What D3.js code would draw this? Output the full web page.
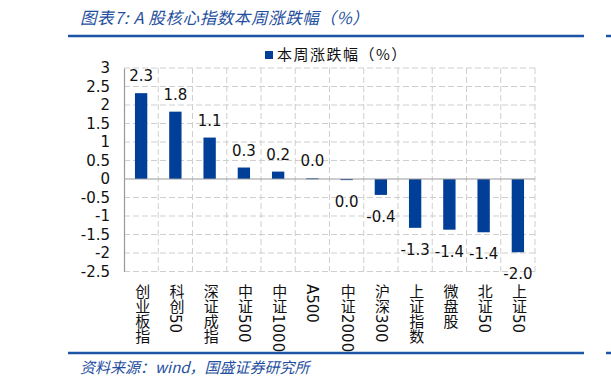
<!DOCTYPE html>
<html>
<head>
<meta charset="utf-8">
<script src="https://cdn.jsdelivr.net/npm/d3@7"></script>
<style>
  body { margin: 0; background: #fff; }
  svg { display: block; }
</style>
</head>
<body>
<div id="chart"></div>
<script>
// data
const categories = ['创业板指', '科创50', '深证成指', '中证500', '中证1000', 'A500',
  '中证2000', '沪深300', '上证指数', '微盘股', '北证50', '上证50'];
const weeklyChange = [2.32, 1.82, 1.12, 0.31, 0.2, 0.02, -0.03, -0.43, -1.32, -1.37, -1.44, -1.98];
const tickValues = [3, 2.5, 2, 1.5, 1, 0.5, 0, -0.5, -1, -1.5, -2, -2.5];
const tickLabels = ['3', '2.5', '2', '1.5', '1', '0.5', '0', '-0.5', '-1', '-1.5', '-2', '-2.5'];

const W = 611, H = 386;
const blue = '#003f98';
const cjk = '"Noto Sans CJK SC", sans-serif';
const latin = '"DejaVu Sans", "Noto Sans CJK SC", sans-serif';

const svg = d3.select('#chart').append('svg')
  .attr('width', W).attr('height', H);

// header / footer
svg.append('text')
  .attr('x', 80).attr('y', 24)
  .attr('font-family', cjk).attr('font-size', 16.5)
  .attr('font-style', 'italic').attr('fill', '#1f4f9e')
  .attr('letter-spacing', 0.6)
  .text('图表7: A 股核心指数本周涨跌幅（%）');
[[68, 584], [606, 611]].forEach(([a, b]) => {
  svg.append('line').attr('x1', a).attr('x2', b).attr('y1', 36).attr('y2', 36)
    .attr('stroke', '#1d54a6').attr('stroke-width', 2.5);
  svg.append('line').attr('x1', a).attr('x2', b).attr('y1', 353).attr('y2', 353)
    .attr('stroke', '#1d54a6').attr('stroke-width', 2.5);
});
svg.append('text')
  .attr('x', 80).attr('y', 373)
  .attr('font-family', cjk).attr('font-size', 15)
  .attr('font-style', 'italic').attr('fill', '#1f4f9e')
  .text('资料来源：wind，国盛证券研究所');

// legend
svg.append('rect').attr('x', 265).attr('y', 51).attr('width', 8).attr('height', 8).attr('fill', blue);
svg.append('text').attr('x', 277).attr('y', 60)
  .attr('font-family', cjk).attr('font-size', 15).attr('fill', '#111')
  .attr('letter-spacing', 1.5)
  .text('本周涨跌幅（%）');

// scales
const x = d3.scaleBand().domain(categories).range([124, 535]).padding(0);
const y = d3.scaleLinear().domain([-2.5, 3]).range([271.5, 68]);

// grid
const grid = svg.append('g');
grid.selectAll('line.h').data(tickValues.filter(v => v !== 0)).join('line')
  .attr('x1', x.range()[0]).attr('x2', x.range()[1])
  .attr('y1', d => y(d)).attr('y2', d => y(d))
  .attr('stroke', '#cfcfcf').attr('stroke-dasharray', '6,3');
grid.selectAll('line.v').data(categories).join('line')
  .attr('x1', d => x(d) + x.bandwidth()).attr('x2', d => x(d) + x.bandwidth())
  .attr('y1', y(3)).attr('y2', y(-2.5))
  .attr('stroke', '#cfcfcf').attr('stroke-dasharray', '6,3');

// bars
const barW = x.bandwidth() * 0.36;
svg.selectAll('rect.bar').data(weeklyChange).join('rect')
  .attr('x', (d, i) => x(categories[i]) + (x.bandwidth() - barW) / 2)
  .attr('y', d => y(Math.max(0, d)))
  .attr('width', barW)
  .attr('height', d => Math.max(1, Math.abs(y(d) - y(0))))
  .attr('fill', blue);

// zero line and left axis
svg.append('line').attr('x1', x.range()[0]).attr('x2', x.range()[1])
  .attr('y1', y(0)).attr('y2', y(0)).attr('stroke', '#9a9a9a').attr('stroke-width', 1.2);
const yAxis = svg.append('g')
  .attr('transform', `translate(${x.range()[0]},0)`)
  .call(d3.axisLeft(y).tickValues(tickValues).tickSize(0).tickPadding(14)
    .tickFormat((d, i) => tickLabels[i]));
yAxis.select('.domain').attr('stroke', '#9a9a9a').attr('stroke-width', 1.2);
yAxis.selectAll('text').attr('font-family', latin).attr('font-size', 15).attr('fill', '#111');

// value labels
const fmt = v => (Math.abs(v) < 0.05 ? '0.0' : v.toFixed(1));
svg.selectAll('text.val').data(weeklyChange).join('text')
  .attr('x', (d, i) => x(categories[i]) + x.bandwidth() / 2)
  .attr('y', d => d >= 0 ? y(d) - 12 : y(d) + 27)
  .attr('text-anchor', 'middle')
  .attr('font-family', latin).attr('font-size', 15).attr('fill', '#111')
  .text(fmt);

// vertical category labels (CJK upright, digits turned)
svg.selectAll('text.cat').data(categories).join('text')
  .attr('class', 'cat')
  .attr('x', d => x(d) + x.bandwidth() / 2)
  .attr('y', 284)
  .style('writing-mode', 'vertical-rl')
  .style('text-orientation', 'mixed')
  .attr('font-family', latin).attr('font-size', 15).attr('fill', '#111')
  .text(d => d);
</script>
</body>
</html>
